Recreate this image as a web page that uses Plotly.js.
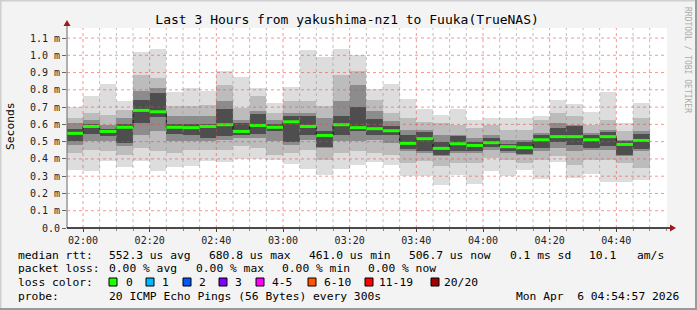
<!DOCTYPE html>
<html>
<head>
<meta charset="utf-8">
<script src="https://cdn.plot.ly/plotly-3.0.1.min.js"></script>
<style>html,body{margin:0;padding:0;background:#f3f3f3;}#chart{width:697px;height:310px;}</style>
</head>
<body>
<div id="chart"></div>
<script>
// ---- data (ms) ----
const binEdges = ['2026-04-06 01:55','2026-04-06 02:00','2026-04-06 02:05','2026-04-06 02:10','2026-04-06 02:15','2026-04-06 02:20',
  '2026-04-06 02:25','2026-04-06 02:30','2026-04-06 02:35','2026-04-06 02:40','2026-04-06 02:45','2026-04-06 02:50',
  '2026-04-06 02:55','2026-04-06 03:00','2026-04-06 03:05','2026-04-06 03:10','2026-04-06 03:15','2026-04-06 03:20',
  '2026-04-06 03:25','2026-04-06 03:30','2026-04-06 03:35','2026-04-06 03:40','2026-04-06 03:45','2026-04-06 03:50',
  '2026-04-06 03:55','2026-04-06 04:00','2026-04-06 04:05','2026-04-06 04:10','2026-04-06 04:15','2026-04-06 04:20',
  '2026-04-06 04:25','2026-04-06 04:30','2026-04-06 04:35','2026-04-06 04:40','2026-04-06 04:45','2026-04-06 04:50',
  '2026-04-06 04:55'];
const medianRtt = [0.548,0.588,0.559,0.583,0.681,0.673,0.583,0.581,0.588,0.598,0.559,0.594,0.583,0.615,0.588,0.536,0.598,0.581,0.575,0.563,0.490,0.517,0.461,0.488,0.478,0.494,0.471,0.465,0.511,0.529,0.529,0.511,0.529,0.484,0.507];
const pingMax   = [0.700,0.766,0.836,0.737,1.021,1.038,0.789,0.810,0.795,0.911,0.876,0.810,0.724,0.816,1.032,0.988,1.038,1.003,0.807,0.836,0.749,0.691,0.656,0.691,0.627,0.637,0.637,0.637,0.650,0.739,0.720,0.673,0.785,0.606,0.725];
const pingHi2   = [0.637,0.666,0.656,0.685,0.888,0.868,0.704,0.704,0.714,0.830,0.695,0.762,0.666,0.733,0.733,0.704,0.888,0.907,0.743,0.666,0.637,0.614,0.608,0.598,0.579,0.598,0.569,0.569,0.627,0.666,0.646,0.598,0.627,0.560,0.637];
const pingHi1   = [0.608,0.627,0.598,0.637,0.791,0.810,0.646,0.646,0.646,0.733,0.627,0.675,0.627,0.666,0.666,0.637,0.733,0.830,0.675,0.617,0.569,0.569,0.540,0.540,0.521,0.540,0.511,0.511,0.550,0.608,0.598,0.550,0.569,0.511,0.560];
const pingHi0   = [0.575,0.605,0.575,0.605,0.740,0.780,0.600,0.605,0.600,0.690,0.610,0.660,0.600,0.650,0.650,0.560,0.650,0.700,0.630,0.590,0.540,0.555,0.500,0.535,0.500,0.520,0.485,0.500,0.540,0.580,0.590,0.540,0.555,0.505,0.545];
const pingLo0   = [0.505,0.545,0.530,0.495,0.610,0.640,0.545,0.540,0.520,0.530,0.540,0.545,0.560,0.500,0.540,0.470,0.540,0.560,0.540,0.540,0.455,0.445,0.425,0.445,0.445,0.470,0.445,0.430,0.463,0.500,0.482,0.463,0.473,0.420,0.455];
const pingLo1   = [0.482,0.502,0.502,0.473,0.540,0.559,0.502,0.502,0.502,0.511,0.521,0.521,0.502,0.482,0.511,0.463,0.502,0.502,0.511,0.492,0.444,0.434,0.415,0.434,0.434,0.453,0.434,0.424,0.444,0.463,0.444,0.453,0.453,0.415,0.444];
const pingLo2   = [0.434,0.453,0.444,0.424,0.463,0.444,0.434,0.453,0.453,0.453,0.473,0.463,0.424,0.434,0.453,0.395,0.434,0.444,0.434,0.424,0.376,0.386,0.357,0.376,0.376,0.405,0.395,0.376,0.395,0.415,0.366,0.395,0.395,0.376,0.347];
const pingMin   = [0.337,0.332,0.386,0.351,0.386,0.328,0.351,0.357,0.390,0.380,0.401,0.401,0.393,0.370,0.343,0.308,0.343,0.363,0.380,0.366,0.301,0.301,0.251,0.308,0.256,0.332,0.299,0.337,0.283,0.384,0.287,0.314,0.264,0.264,0.276];

const yTickVals = [0,0.1,0.2,0.3,0.4,0.5,0.6,0.7,0.8,0.9,1.0,1.1];
const yTickText = ['0.0','0.1 m','0.2 m','0.3 m','0.4 m','0.5 m','0.6 m','0.7 m','0.8 m','0.9 m','1.0 m','1.1 m'];
const lossLabels = ['0','1','2','3','4-5','6-10','11-19','20/20'];
const lossColors = ['#20ff00','#00b8ff','#0059ff','#7e00ff','#ff00ff','#ff5500','#ff0000','#a10000'];

// ---- helpers ----
const starts = binEdges.slice(0, -1);
const BIN_MS = 300000;
const diff = (a, b) => a.map((v, i) => v - b[i]);
const px = x => (x - 67) / 600;
const py = y => (228 - y) / 200;
const MONO = 'DejaVu Sans Mono';

function band(lo, hi, color) {
  return {type:'bar', x:starts, base:lo, y:diff(hi, lo), width:BIN_MS, offset:0,
          marker:{color:color, line:{width:0}}, hoverinfo:'skip', showlegend:false};
}
const segX = [], segY = [];
medianRtt.forEach((m, i) => { segX.push(binEdges[i], binEdges[i+1], null); segY.push(m, m, null); });

const traces = [
  band(pingMin, pingMax, '#dddddd'),
  band(pingLo2, pingHi2, '#bcbcbc'),
  band(pingLo1, pingHi1, '#8c8c8c'),
  band(pingLo0, pingHi0, '#4e4e4e'),
  {type:'scatter', mode:'lines', x:binEdges, y:medianRtt.concat([medianRtt[medianRtt.length-1]]),
   line:{shape:'hv', color:'#111', width:1}, hoverinfo:'skip', showlegend:false},
  {type:'scatter', mode:'lines', x:segX, y:segY, connectgaps:false,
   line:{color:lossColors[0], width:3}, hoverinfo:'skip', showlegend:false}
];

// ---- grid as shapes (drawn above smoke like rrdtool) ----
const shapes = [];
const rangeStart = '2026-04-06 01:55:12', rangeEnd = '2026-04-06 04:55:12';
for (let h = 2; h <= 4; h++) for (let m = 0; m < 60; m += 5) {
  const t = `2026-04-06 0${h}:${String(m).padStart(2,'0')}`;
  if (t > '2026-04-06 04:50') continue;
  const major = m % 20 === 0;
  shapes.push({type:'line', xref:'x', yref:'paper', x0:t, x1:t, y0:0, y1:1,
    line:{color: major ? 'rgba(255,60,60,0.55)' : 'rgba(150,150,150,0.6)', width:1, dash:'dot'}});
}
yTickVals.slice(1).forEach(v => shapes.push({type:'line', xref:'paper', yref:'y', x0:0, x1:1, y0:v, y1:v,
  line:{color:'rgba(255,60,60,0.55)', width:1, dash:'dot'}}));
// axes + arrows
shapes.push({type:'line', xref:'paper', yref:'paper', x0:0, x1:0, y0:0, y1:py(24), line:{color:'#666', width:1}});
shapes.push({type:'line', xref:'paper', yref:'paper', x0:0, x1:px(671), y0:0, y1:0, line:{color:'#111', width:1.5}});
shapes.push({type:'path', xref:'paper', yref:'paper', fillcolor:'#a01818', line:{width:0},
  path:`M ${px(67)} ${py(20)} L ${px(63.5)} ${py(26)} L ${px(70.5)} ${py(26)} Z`});
shapes.push({type:'path', xref:'paper', yref:'paper', fillcolor:'#a01818', line:{width:0},
  path:`M ${px(676)} ${py(228)} L ${px(670)} ${py(224.5)} L ${px(670)} ${py(231.5)} Z`});
// frame
shapes.push({type:'line', xref:'paper', yref:'paper', x0:px(0), x1:px(697), y0:py(0.5), y1:py(0.5), line:{color:'#cfcfcf', width:2}});
shapes.push({type:'line', xref:'paper', yref:'paper', x0:px(0.5), x1:px(0.5), y0:py(0), y1:py(310), line:{color:'#cfcfcf', width:2}});
shapes.push({type:'line', xref:'paper', yref:'paper', x0:px(0), x1:px(697), y0:py(309), y1:py(309), line:{color:'#9a9a9a', width:2}});
shapes.push({type:'line', xref:'paper', yref:'paper', x0:px(696), x1:px(696), y0:py(0), y1:py(310), line:{color:'#9a9a9a', width:2}});

// ---- legend text ----
const ann = [];
function txt(text, x, y, o = {}) {
  ann.push(Object.assign({text:text, xref:'paper', yref:'paper', x:px(x), y:py(y), showarrow:false,
    xanchor:'left', yanchor:'middle', font:{family:MONO, size:11.3, color:'#000'}}, o));
}
const L1 = 255, L2 = 268, L3 = 282, L4 = 296;
txt('median rtt:', 16, L1);
txt('552.3 us avg', 107, L1);
txt('680.8 us max', 207, L1);
txt('461.0 us min', 307, L1);
txt('506.7 us now', 407, L1);
txt('0.1 ms sd', 508, L1);
txt('10.1', 587, L1); txt('am/s', 635, L1);
txt('packet loss:', 16, L2);
txt('0.00 % avg', 107, L2);
txt('0.00 % max', 194, L2);
txt('0.00 % min', 280, L2);
txt('0.00 % now', 366, L2);
txt('loss color:', 16, L3);
const boxX = [109, 146, 183, 219, 256, 308, 365, 431];
const labX = [124, 160, 197, 233, 270, 322, 377, 442];
lossLabels.forEach((lab, i) => {
  txt(lab, labX[i], L3);
  shapes.push({type:'rect', xref:'paper', yref:'paper', x0:px(boxX[i]), x1:px(boxX[i]+8), y0:py(278), y1:py(286),
    fillcolor:lossColors[i], line:{color:'#000', width:1}});
});
txt('probe:', 16, L4);
txt('20 ICMP Echo Pings (56 Bytes) every 300s', 107, L4);
txt('Mon Apr\u00a0\u00a06 04:54:57 2026', 681, L4, {xanchor:'right'});
txt('Seconds', 10, 126, {xanchor:'center', textangle:-90});
txt('RRDTOOL / TOBI OETIKER', 688, 60, {xanchor:'center', textangle:90, font:{family:MONO, size:8, color:'#ababab'}});

const layout = {
  width:697, height:310,
  margin:{l:67, r:30, t:28, b:82, pad:0},
  paper_bgcolor:'#f3f3f3', plot_bgcolor:'#ffffff',
  barmode:'overlay', bargap:0,
  title:{text:'Last 3 Hours from yakushima-nz1 to Fuuka(TrueNAS)', xref:'container', yref:'container',
         x:0.498, y:1 - 19/310, xanchor:'center', yanchor:'middle', font:{family:MONO, size:13, color:'#000'}},
  xaxis:{type:'date', range:[rangeStart, rangeEnd], showgrid:false, zeroline:false, showline:false,
         tick0:'2026-04-06 02:00', dtick:20*60*1000, tickformat:'%H:%M',
         ticks:'outside', ticklen:3, tickcolor:'#444',
         minor:{dtick:5*60*1000, ticks:'outside', ticklen:2, tickcolor:'#888', showgrid:false},
         tickfont:{family:MONO, size:10, color:'#222'}, fixedrange:true},
  yaxis:{range:[0, 1.158], tickvals:yTickVals, ticktext:yTickText, showgrid:false, zeroline:false, showline:false,
         ticks:'outside', ticklen:4, tickcolor:'#666', tickfont:{family:MONO, size:10, color:'#222'}, fixedrange:true},
  shapes:shapes, annotations:ann, showlegend:false
};
Plotly.newPlot('chart', traces, layout, {displayModeBar:false, staticPlot:true});
</script>
</body>
</html>
